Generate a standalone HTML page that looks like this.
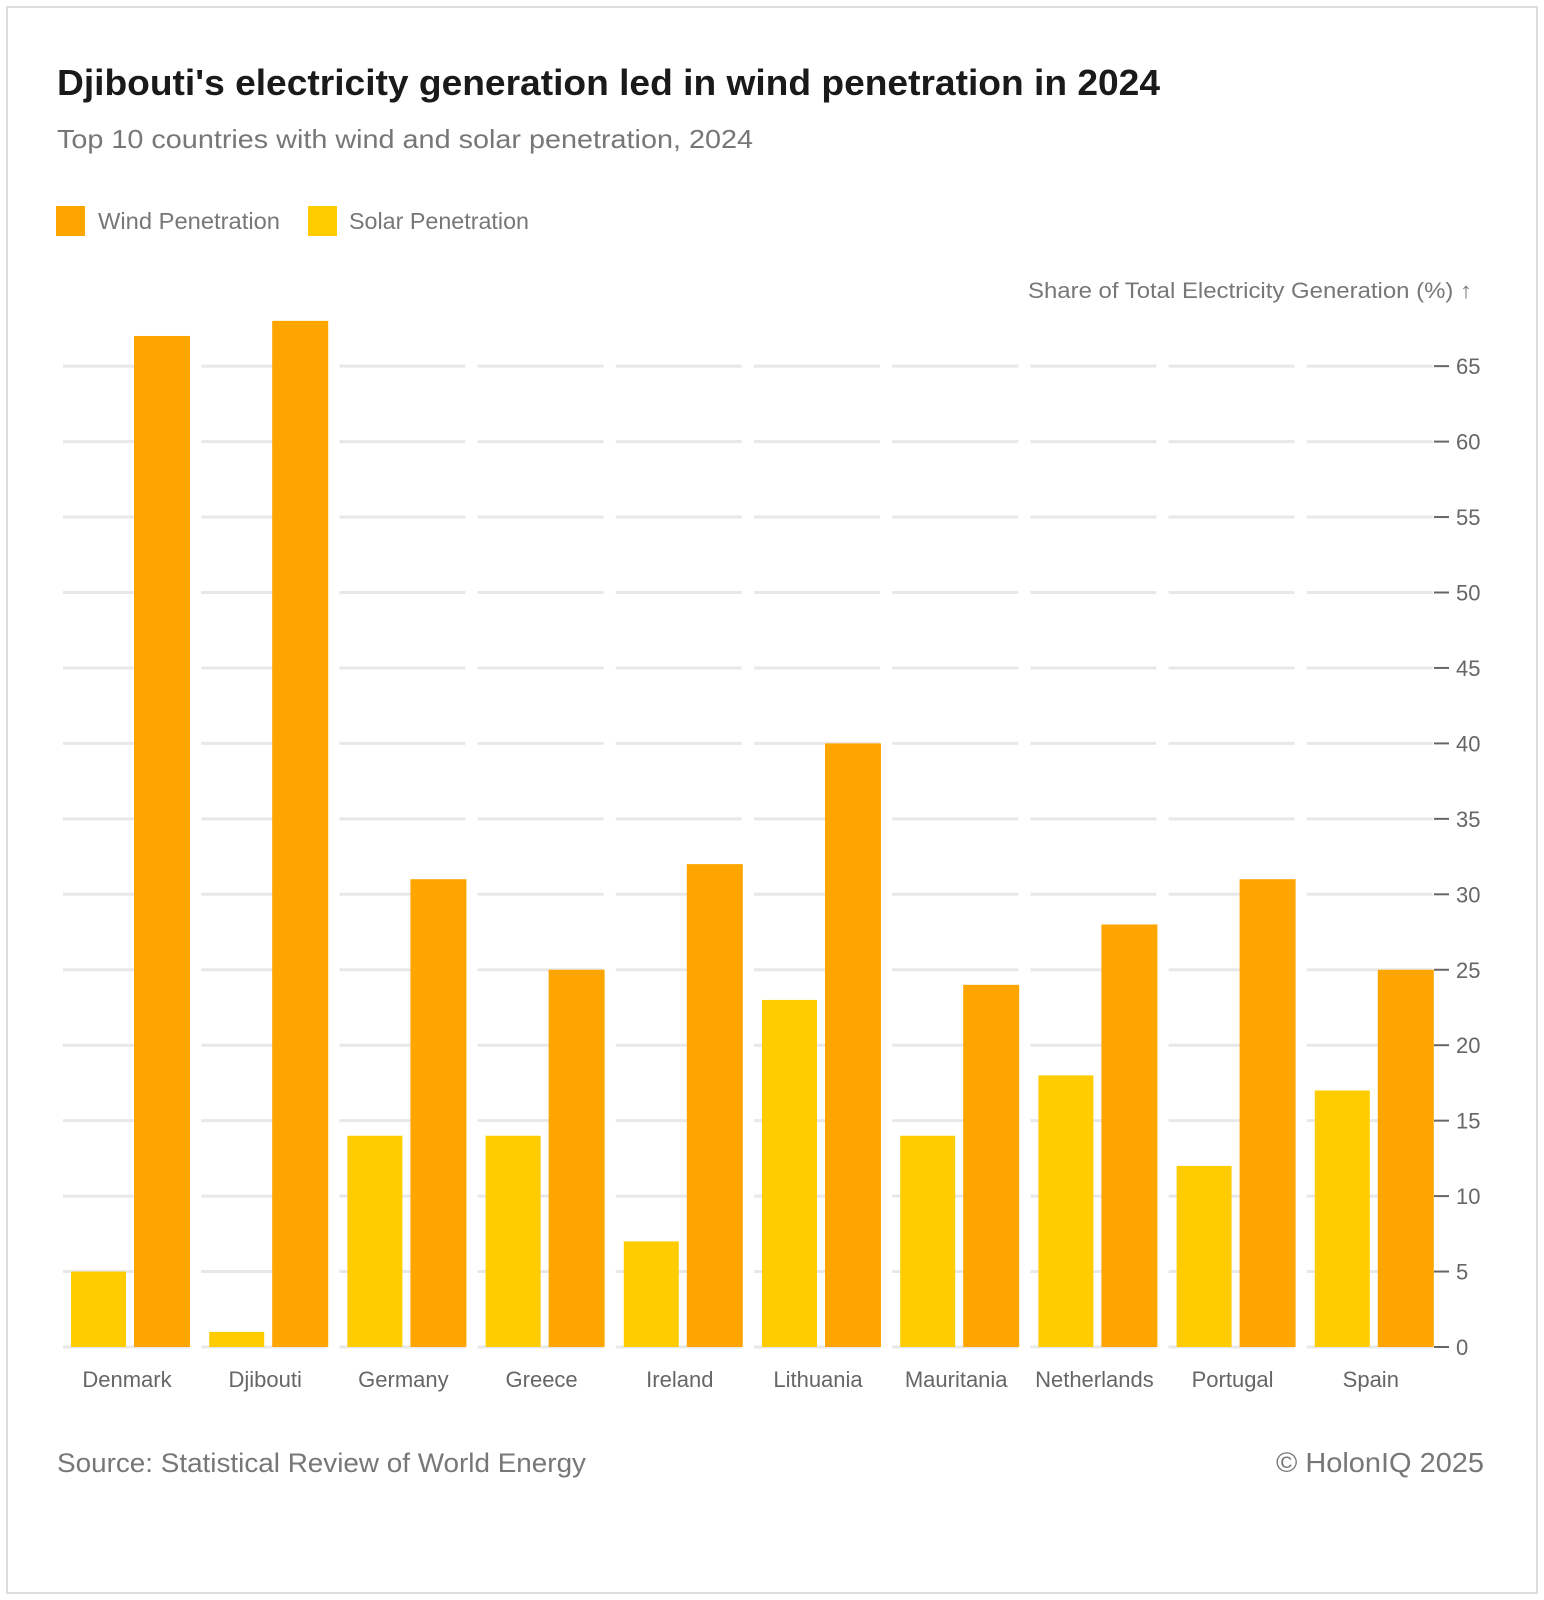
<!DOCTYPE html>
<html><head><meta charset="utf-8"><style>
html,body{margin:0;padding:0;background:#fff;}
svg{display:block;font-family:"Liberation Sans",sans-serif;}
</style></head><body>
<svg id="chart" width="1544" height="1600" viewBox="0 0 1544 1600">
<rect x="7" y="7" width="1530" height="1586" fill="#fff" stroke="#dcdcdc" stroke-width="2"/>
<text x="57" y="95" font-size="36" font-weight="bold" fill="#1a1a1a" textLength="1103" lengthAdjust="spacingAndGlyphs">Djibouti's electricity generation led in wind penetration in 2024</text>
<text x="57" y="148" font-size="26" fill="#777" textLength="696" lengthAdjust="spacingAndGlyphs">Top 10 countries with wind and solar penetration, 2024</text>
<g>
<g>
<rect x="56" y="206" width="29" height="30" fill="#FFA500"/>
<text x="98" y="229" font-size="23" fill="#777" textLength="182" lengthAdjust="spacingAndGlyphs">Wind Penetration</text>
</g>
<g>
<rect x="308" y="206" width="29" height="30" fill="#FFCC00"/>
<text x="349" y="229" font-size="23" fill="#777" textLength="180" lengthAdjust="spacingAndGlyphs">Solar Penetration</text>
</g>
</g>
<text x="1028" y="298" font-size="22" fill="#777" textLength="444" lengthAdjust="spacingAndGlyphs">Share of Total Electricity Generation (%) ↑</text>
<g id="grid"></g>
<g id="bars"></g>
<g id="yticks"></g>
<g id="xlabels"></g>
<text x="57" y="1472" font-size="27" fill="#777" textLength="529" lengthAdjust="spacingAndGlyphs">Source: Statistical Review of World Energy</text>
<text x="1276" y="1472" font-size="28" fill="#777" textLength="208" lengthAdjust="spacingAndGlyphs">© HolonIQ 2025</text>
</svg>
<script>
const categories = ["Denmark","Djibouti","Germany","Greece","Ireland","Lithuania","Mauritania","Netherlands","Portugal","Spain"];
const solarValues = [5,1,14,14,7,23,14,18,12,17];
const windValues = [67,68,31,25,32,40,24,28,31,25];
const yTicks = [0,5,10,15,20,25,30,35,40,45,50,55,60,65];

const NS = "http://www.w3.org/2000/svg";
const baseY = 1347, unit = 15.09;
const x0 = 71, pitch = 138.2, barW = 55, gap = 63;
function yScale(v){ return baseY - v*unit; }
function xScale(i){ return x0 + i*pitch; }
function mk(tag, attrs, parent){ const e=document.createElementNS(NS,tag); for(const k in attrs) e.setAttribute(k,attrs[k]); parent.appendChild(e); return e; }

const grid = document.getElementById('grid');
const bars = document.getElementById('bars');
const yt = document.getElementById('yticks');
const xl = document.getElementById('xlabels');

yTicks.forEach(t=>{
  const y = yScale(t);
  categories.forEach((c,i)=>{
    const l = mk('line',{x1:xScale(i)-8,x2:xScale(i)+118,y1:y,y2:y,stroke:'#e8e8e8','stroke-width':3},grid);
    
    
  });
  const d = mk('line',{x1:1434,x2:1449,y1:y,y2:y,stroke:'#666','stroke-width':2},yt);
  
  
  const tx = mk('text',{x:1456,y:y+8,'font-size':22,fill:'#666'},yt);
  tx.textContent = t;
  
  
});

categories.forEach((c,i)=>{
  const xs = xScale(i);
  const s = mk('rect',{x:xs,y:yScale(solarValues[i]),width:barW,height:solarValues[i]*unit,fill:'#FFCC00'},bars);
  
  
  const w = mk('rect',{x:xs+gap,y:yScale(windValues[i]),width:barW+1,height:windValues[i]*unit,fill:'#FFA500'},bars);
  
  
  const t = mk('text',{x:xs+56,y:1387,'font-size':22,fill:'#666','text-anchor':'middle'},xl);
  t.textContent = c;
  
  
});
</script>
</body></html>
